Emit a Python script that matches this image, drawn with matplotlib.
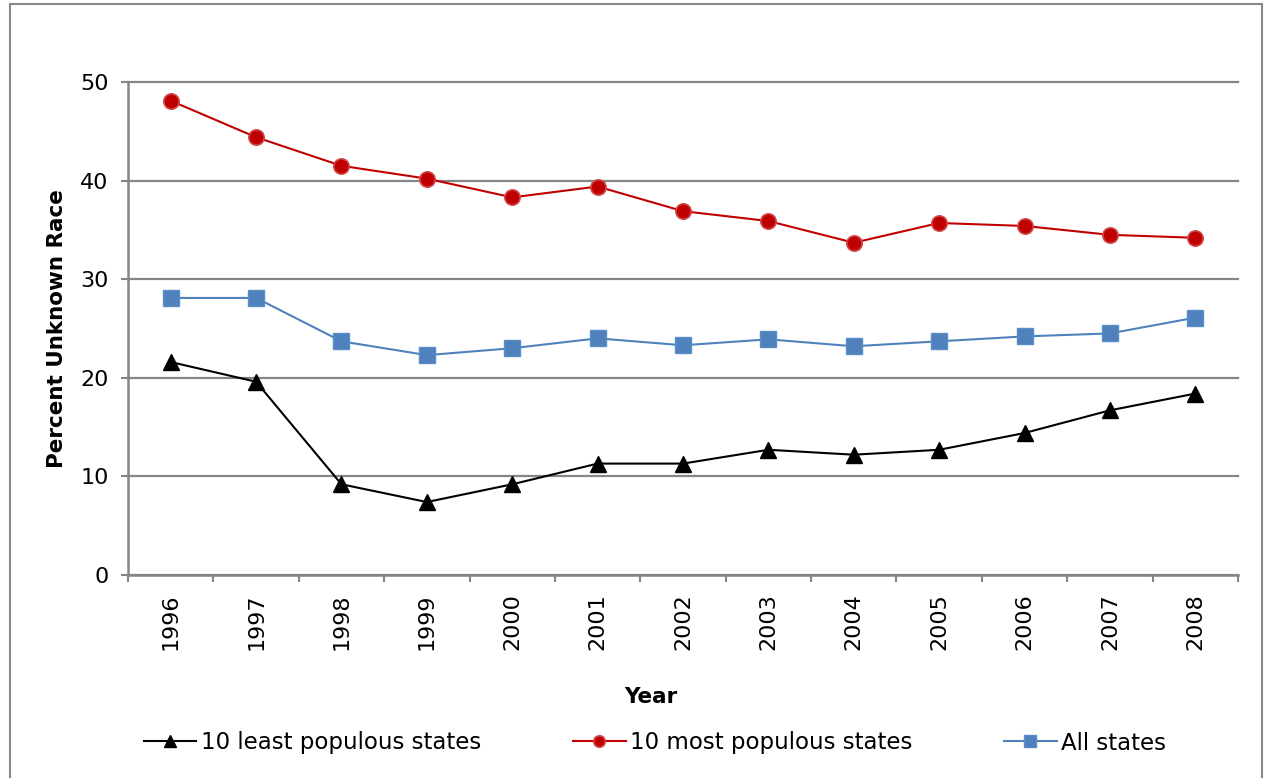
import numpy as np
import matplotlib.pyplot as plt
from matplotlib.patches import Rectangle

years = ['1996', '1997', '1998', '1999', '2000', '2001', '2002', '2003', '2004', '2005', '2006', '2007', '2008']
least_populous = [21.6, 19.6, 9.2, 7.4, 9.2, 11.3, 11.3, 12.7, 12.2, 12.7, 14.4, 16.7, 18.4]
most_populous = [48.1, 44.4, 41.5, 40.2, 38.3, 39.4, 36.9, 35.9, 33.7, 35.7, 35.4, 34.5, 34.2]
all_states = [28.1, 28.1, 23.7, 22.3, 23.0, 24.0, 23.3, 23.9, 23.2, 23.7, 24.2, 24.5, 26.1]

grey = '#868686'
plt.rcParams['font.family'] = 'DejaVu Sans'

fig = plt.figure(figsize=(12.64, 7.78), dpi=100)
ax = fig.add_axes([128 / 1264, 203 / 778, 1110 / 1264, 493 / 778])

x = np.arange(len(years))
ax.plot(x, least_populous, color='black', lw=1.5, marker='^', markersize=12,
        label='10 least populous states')
ax.plot(x, most_populous, color='#C00000', lw=1.5, marker='o', markersize=11,
        markerfacecolor='#C00000', markeredgecolor='#D04848', markeredgewidth=1.2,
        label='10 most populous states')
ax.plot(x, all_states, color='#4F81BD', lw=1.5, marker='s', markersize=11.5,
        markeredgecolor='#5B8DC8', label='All states')

ax.set_xlim(-0.5, len(years) - 0.5)
ax.set_ylim(0, 50)
ax.set_yticks(range(0, 51, 10))
ax.yaxis.grid(True, color=grey, lw=1.6)
for gl in ax.get_ygridlines():
    gl.set_clip_on(False)
ax.set_axisbelow(True)

# boundary ticks between categories, labels centred on categories
ax.set_xticks(np.arange(-0.5, len(years), 1.0))
ax.set_xticklabels([])
ax.set_xticks(x, minor=True)
ax.set_xticklabels(years, minor=True, rotation=90, fontsize=16)
ax.tick_params(axis='x', which='major', length=5, width=1.5, color=grey, direction='out')
ax.tick_params(axis='x', which='minor', length=0, pad=13)
ax.tick_params(axis='y', length=5, width=1.5, color=grey, labelsize=16, pad=9)

for side in ['top', 'right']:
    ax.spines[side].set_visible(False)
for side in ['left', 'bottom']:
    ax.spines[side].set_color(grey)
    ax.spines[side].set_linewidth(1.8)

fig.text(57 / 1264, 1 - 329 / 778, 'Percent Unknown Race', rotation=90,
         ha='center', va='center', fontsize=15.5, fontweight='bold')
fig.text(651 / 1264, 1 - 697 / 778, 'Year', ha='center', va='center',
         fontsize=15.5, fontweight='bold')

fig.legend(loc='center', bbox_to_anchor=(655 / 1264, 1 - 743 / 778), ncol=3,
           frameon=False, fontsize=16.5, handlelength=2.3, handletextpad=0.2,
           columnspacing=4.0, markerscale=0.75)

fig.patches.append(Rectangle((10 / 1264, -0.02), 1252 / 1264, 1.02 - 4 / 778,
                             transform=fig.transFigure, fill=False,
                             edgecolor='#888888', lw=1.5))

fig.savefig('out.png', dpi=100)
